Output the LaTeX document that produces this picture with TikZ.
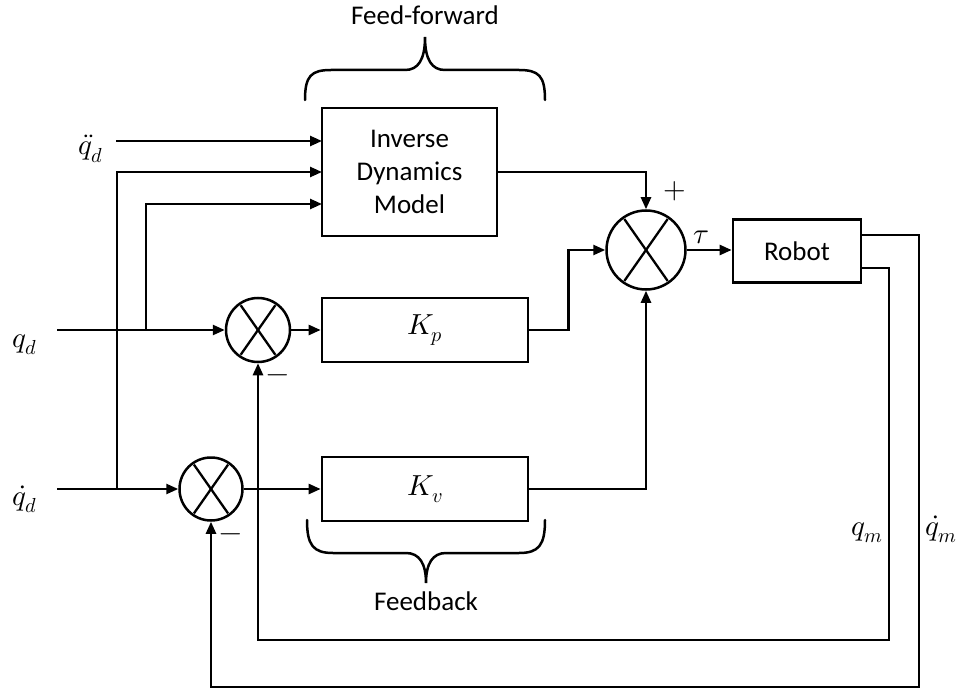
\documentclass[tikz,border=0pt]{standalone}
\usepackage{fontspec}
\usepackage{unicode-math}
\setmainfont{Carlito}
\setmathfont{Latin Modern Math}
\usetikzlibrary{arrows.meta}

\tikzset{
  every node/.style={font=\fontsize{27}{33}\selectfont},
  wire/.style={line width=2.5pt},
  sig/.style={wire, -{Triangle[length=12pt,width=10pt]}},
  block/.style={draw, line width=2.7pt, rectangle, inner sep=0pt, align=center},
  sumjunction/.style={draw, line width=2.5pt, circle, inner sep=0pt},
  cross/.style={line width=2.3pt, shorten >=3pt, shorten <=3pt},
  brace/.style={line width=2.5pt, line cap=round},
  mathlabel/.style={font=\fontsize{29}{33}\selectfont, inner sep=1pt},
}

\begin{document}
\begin{tikzpicture}[x=1pt, y=-1pt]
  \useasboundingbox (0,0) rectangle (962,690);

  % blocks
  \node[block, minimum width=175pt, minimum height=128pt] (idm) at (409.5,172) {Inverse\\Dynamics\\Model};
  \node[block, mathlabel, minimum width=206pt, minimum height=64pt] (kp) at (425,330) {$K_p$};
  \node[block, mathlabel, minimum width=206pt, minimum height=64pt] (kv) at (425,489) {$K_v$};
  \node[block, minimum width=128pt, minimum height=63pt] (robot) at (797,251) {Robot};

  % summing junctions
  \node[sumjunction, minimum size=64pt] (s1) at (258,330) {};
  \node[sumjunction, minimum size=63pt] (s2) at (211,489) {};
  \node[sumjunction, minimum size=79pt] (s3) at (646,250) {};
  \foreach \s in {s1,s2,s3} {
    \draw[cross] (\s.125) -- (\s.-55);
    \draw[cross] (\s.55) -- (\s.-125);
  }

  % inputs
  \node[mathlabel, anchor=base] (lqdd) at (91,155) {$\ddot{q}_d$};
  \node[mathlabel, anchor=base] (lqd) at (25,347) {$q_d$};
  \node[mathlabel, anchor=base] (lqdot) at (25,505) {$\dot{q}_d$};

  \coordinate (qddin) at (116,141);
  \coordinate (qdin) at (57,330);
  \coordinate (qdotin) at (57,489);
  \coordinate (brq) at (146,330);
  \coordinate (brqdot) at (117,489);
  \coordinate (idmin1) at (322,141);
  \coordinate (idmin2) at (322,172);
  \coordinate (idmin3) at (322,204);

  \draw[sig] (qddin) -- (idmin1);
  \draw[sig] (qdin) -- (s1.west);
  \draw[sig] (qdotin) -- (s2.west);
  \draw[sig] (brq) |- (idmin3);
  \draw[sig] (brqdot) |- (idmin2);

  % forward paths
  \draw[sig] (s1.east) -- (kp.west);
  \draw[sig] (s2.east) -- (kv.west);
  \draw[sig] (idm.east) -| (s3.north);
  \draw[sig] (kp.east) -- ++(39,0) |- (s3.west);
  \draw[sig] (kv.east) -| (s3.south);
  \draw[sig] (s3.east) -- (s3.east -| robot.west);

  % feedback paths
  \coordinate (qmout) at (861,268);
  \coordinate (qmdotout) at (861,235);
  \draw[sig] (qmout) -- (889,268) -- (889,640) -| (s1.south);
  \draw[sig] (qmdotout) -- (919,235) -- (919,687) -| (s2.south);

  % signs and signal labels
  \node[mathlabel] (plus) at (675,191) {$+$};
  \node[mathlabel] (minus1) at (278,379) {$-$};
  \node[mathlabel] (minus2) at (231,538) {$-$};
  \node[mathlabel] (tau) at (701,237) {$\tau$};
  \node[mathlabel, anchor=base] (lqm) at (867,535) {$q_m$};
  \node[mathlabel, anchor=base] (lqmdot) at (941,535) {$\dot{q}_m$};

  % feed-forward brace
  \draw[brace] (305,100) .. controls (305,76) and (311,70) .. (331,70) -- (405,70)
    .. controls (418,70) and (425,60) .. (425,37)
    .. controls (425,60) and (432,70) .. (445,70) -- (519,70)
    .. controls (539,70) and (545,76) .. (545,100);
  \node[anchor=base] (ffl) at (425,25) {Feed-forward};

  % feedback brace
  \draw[brace] (307,520) .. controls (307,545) and (313,553) .. (333,553) -- (406,553)
    .. controls (419,553) and (426,563) .. (426,583)
    .. controls (426,563) and (433,553) .. (446,553) -- (519,553)
    .. controls (539,553) and (545,545) .. (545,520);
  \node[anchor=base] (fbl) at (426,610) {Feedback};
\end{tikzpicture}
\end{document}
